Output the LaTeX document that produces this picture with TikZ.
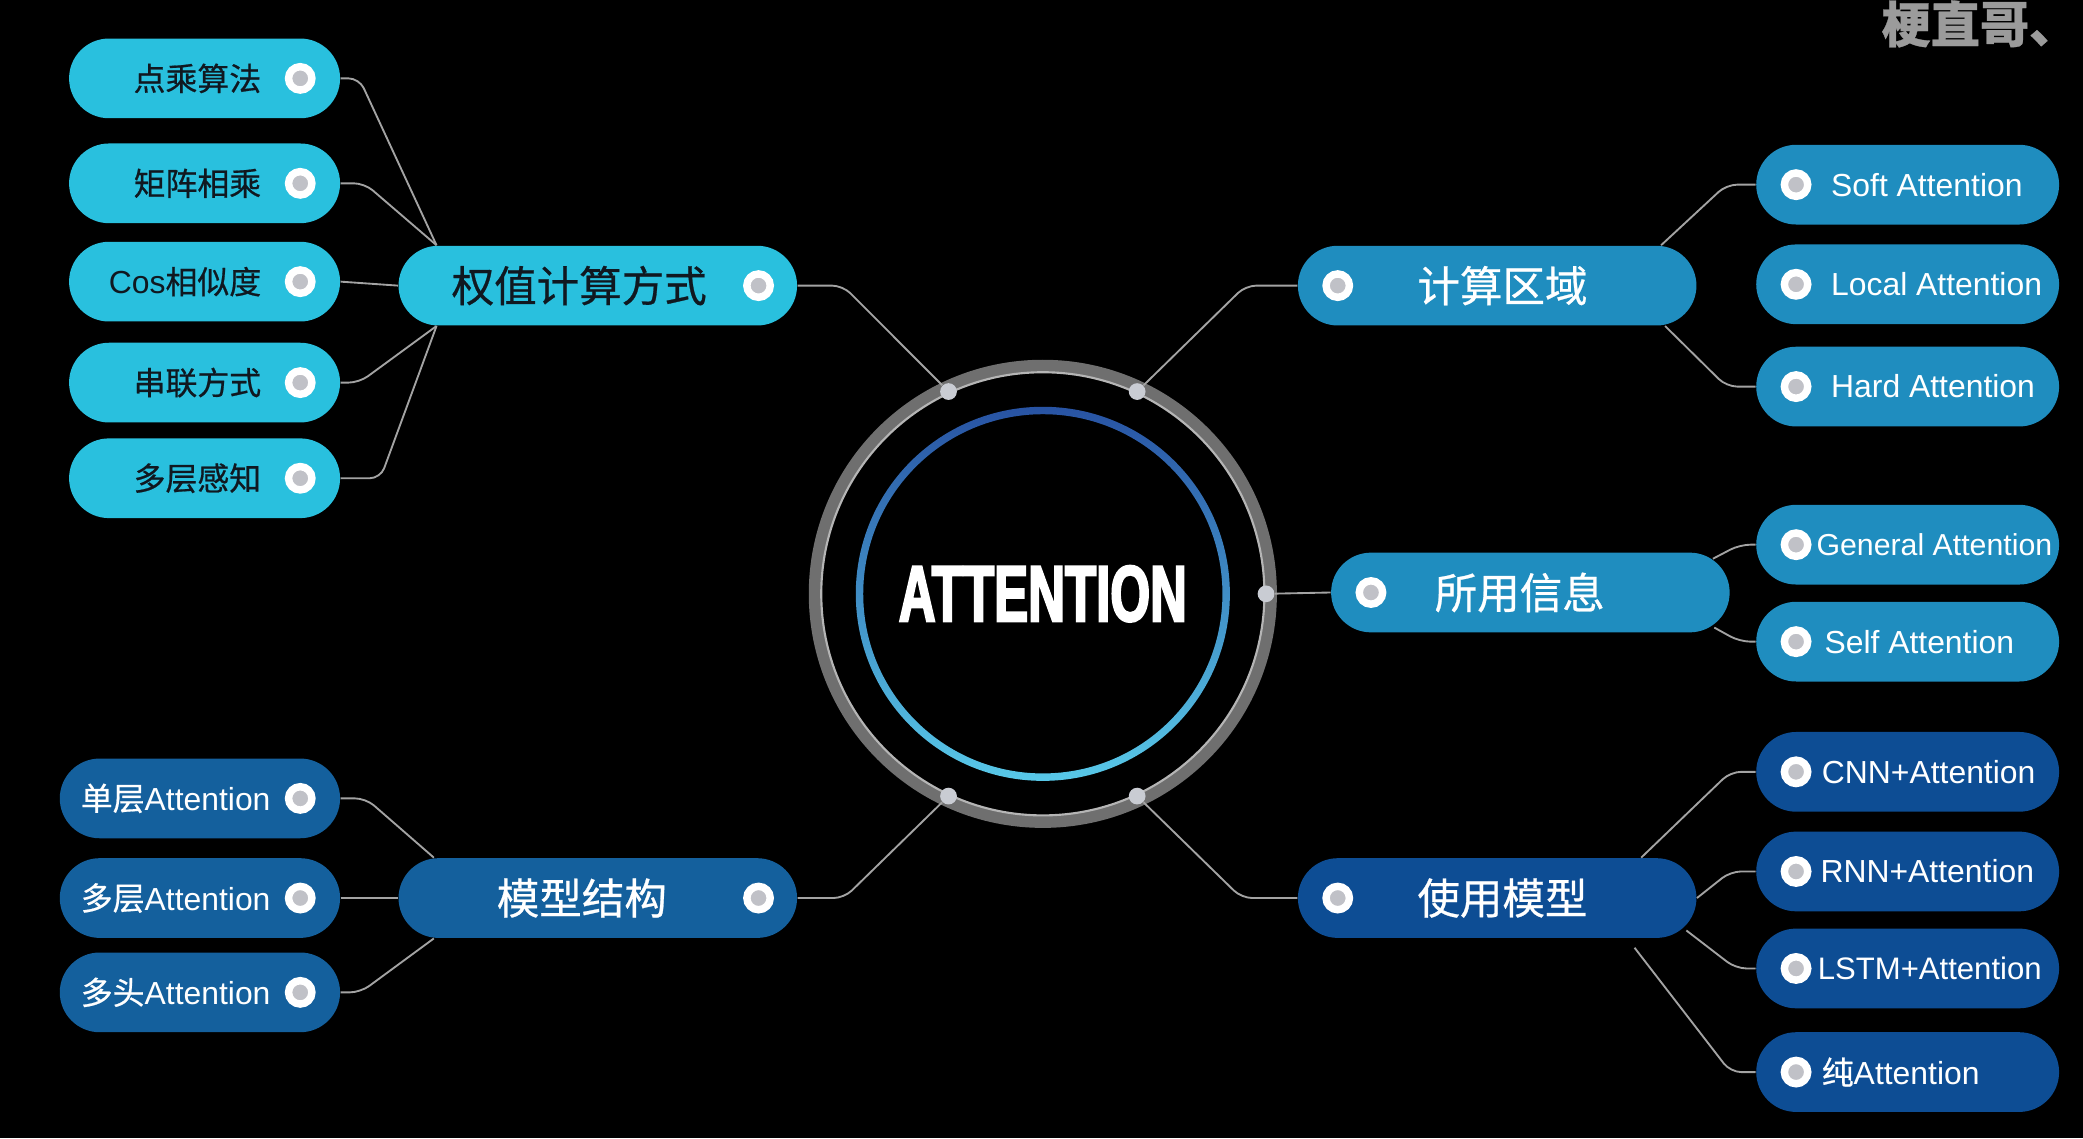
\documentclass[tikz,border=0pt]{standalone}
\usepackage{fontspec}
\setmainfont{Liberation Sans}
\newfontfamily\cjk[FakeBold=0.6]{Noto Sans CJK SC}
\newfontfamily\titlefont[FakeStretch=0.64, FakeBold=2.5]{Liberation Sans}
\usetikzlibrary{calc}
\definecolor{bgblack}{HTML}{000000}
\definecolor{wcyan}{HTML}{29C0DE}
\definecolor{darktext}{HTML}{101820}
\definecolor{areablue}{HTML}{1F8DBF}
\definecolor{structblue}{HTML}{14609D}
\definecolor{useblue}{HTML}{0D4D94}
\definecolor{dotgray}{HTML}{C0C1C7}
\definecolor{linkgray}{HTML}{A3A3A3}
\definecolor{ringgray}{HTML}{6F6F6F}
\definecolor{ringlight}{HTML}{B5B5B5}
\definecolor{ringtop}{HTML}{2853A3}
\definecolor{ringbot}{HTML}{58C8E8}
\definecolor{ringdotgray}{HTML}{C9CCD3}
\definecolor{markgray}{HTML}{9B9B9B}
\newcommand\zh[1]{{\cjk #1}}

\begin{document}
\begin{tikzpicture}[x=0.5pt, y=-0.5pt,
    pill/.style={rectangle, rounded corners=15pt, minimum height=30pt, inner sep=0pt},
    mainpill/.style={pill, minimum width=150pt},
    leftleaf/.style={pill, minimum width=102pt},
    lowleaf/.style={pill, minimum width=105.5pt},
    rightleaf/.style={pill, minimum width=114pt},
    dot/.style={circle, fill=dotgray, draw=white, line width=2.8pt, minimum size=8.8pt, inner sep=0pt},
    ringdot/.style={circle, fill=ringdotgray, minimum size=6.3pt, inner sep=0pt},
    link/.style={draw=linkgray, line width=0.7pt, rounded corners=4pt},
    maintext/.style={font=\cjk\fontsize{16}{18}\selectfont, text=white, inner sep=0pt},
    leaftext/.style={font=\fontsize{12}{14}\selectfont, text=white, inner sep=0pt},
    titletext/.style={font=\titlefont\bfseries\fontsize{30}{32}\selectfont, text=white, inner sep=0pt}
]
    % background
    \fill[bgblack] (0,0) rectangle (1568,857);

    % centre rings
    \coordinate (c) at (785,447);
    \draw[ringgray, line width=4.6pt] (c) circle[radius=85.8pt];
    \draw[ringlight, line width=0.8pt] (c) circle[radius=83.4pt];
    \shade[top color=ringtop, bottom color=ringbot, even odd rule]
        (c) circle[radius=70.4pt] (c) circle[radius=67.6pt];
    \node[titletext] (attn) at (c) {ATTENTION};
    \foreach \a [count=\i] in {115,65,0,245,295}
        \node[ringdot] (r\i) at ($(c)+(\a:84pt)$) {};

    % main branches
    \node[mainpill, fill=wcyan] (wcalc) at (450,215) {};
    \node[maintext, text=darktext] (wcalc-txt) at (436,215) {权值计算方式};
    \node[dot] (wcalc-dot) at (571,215) {};

    \node[mainpill, fill=areablue] (area) at (1127,215) {};
    \node[maintext] (area-txt) at (1131,215) {计算区域};
    \node[dot] (area-dot) at (1007,215) {};

    \node[mainpill, fill=areablue] (info) at (1152,446) {};
    \node[maintext] (info-txt) at (1144,446) {所用信息};
    \node[dot] (info-dot) at (1032,446) {};

    \node[mainpill, fill=structblue] (struct) at (450,676) {};
    \node[maintext] (struct-txt) at (438,676) {模型结构};
    \node[dot] (struct-dot) at (571,676) {};

    \node[mainpill, fill=useblue] (usem) at (1127,676) {};
    \node[maintext] (usem-txt) at (1131,676) {使用模型};
    \node[dot] (usem-dot) at (1007,676) {};

    % leaves
    \foreach \y/\t [count=\i] in {59/\zh{点乘算法}, 138/\zh{矩阵相乘}, 212/Cos\zh{相似度}, 288/\zh{串联方式}, 360/\zh{多层感知}} {
        \node[leftleaf, fill=wcyan] (w\i) at (154,\y) {};
        \node[leaftext, text=darktext, anchor=east] (w\i-txt) at (197,\y) {\t};
        \node[dot] (w\i-dot) at (226,\y) {};
    }
    \foreach \y/\t [count=\i] in {601/\zh{单层}Attention, 676/\zh{多层}Attention, 747/\zh{多头}Attention} {
        \node[lowleaf, fill=structblue] (s\i) at (150.5,\y) {};
        \node[leaftext, anchor=east] (s\i-txt) at (204,\y) {\t};
        \node[dot] (s\i-dot) at (226,\y) {};
    }
    \foreach \y/\t [count=\i] in {139/Soft Attention, 214/Local Attention, 291/Hard Attention} {
        \node[rightleaf, fill=areablue] (a\i) at (1436,\y) {};
        \node[leaftext, anchor=west] (a\i-txt) at (1378,\y) {\t};
        \node[dot] (a\i-dot) at (1352,\y) {};
    }
    \foreach \y/\x/\t [count=\i] in {410/1367/{\fontsize{11.4}{13}\selectfont General Attention}, 483/1373/Self Attention} {
        \node[rightleaf, fill=areablue] (i\i) at (1436,\y) {};
        \node[leaftext, anchor=west] (i\i-txt) at (\x,\y) {\t};
        \node[dot] (i\i-dot) at (1352,\y) {};
    }
    \foreach \y/\x/\t [count=\i] in {581/1371/CNN+Attention, 656/1370/RNN+Attention, 729/1368/{\fontsize{11.7}{13}\selectfont LSTM+Attention}, 807/1371/\zh{纯}Attention} {
        \node[rightleaf, fill=useblue] (u\i) at (1436,\y) {};
        \node[leaftext, anchor=west] (u\i-txt) at (\x,\y) {\t};
        \node[dot] (u\i-dot) at (1352,\y) {};
    }

    % links from the centre
    \draw[link] (r1) -- ($(wcalc.east)+(34,0)$) -- (wcalc.east);
    \draw[link] (r2) -- ($(area.west)+(-39,0)$) -- (area.west);
    \draw[link] (r3) -- (info.west);
    \draw[link] (r4) -- ($(struct.east)+(35,0)$) -- (struct.east);
    \draw[link] (r5) -- ($(usem.west)+(-42,0)$) -- (usem.west);

    % links to the leaves
    \draw[link] (w1.east) -- ++(14,0) -- ($(wcalc.north west)+(29,0)$);
    \draw[link] (w2.east) -- ++(18,0) -- ($(wcalc.north west)+(29,0)$);
    \draw[link] (w3.east) -- (wcalc.west);
    \draw[link] (w4.east) -- ++(14,0) -- ($(wcalc.south west)+(29,0)$);
    \draw[link] (w5.east) -- ++(30,0) -- ($(wcalc.south west)+(29,0)$);

    \draw[link] (s1.east) -- ++(19,0) -- ($(struct.north west)+(27,0)$);
    \draw[link] (s2.east) -- (struct.west);
    \draw[link] (s3.east) -- ++(15,0) -- ($(struct.south west)+(27,0)$);

    \draw[link] (a1.west) -- ++(-22,0) -- ($(area.north east)+(-27,0)$);
    \draw[link] (a3.west) -- ++(-22,0) -- ($(area.south east)+(-24,0)$);

    \draw[link] (i1.west) -- ++(-12,0) -- ($(info.north east)+(-13,5)$);
    \draw[link] (i2.west) -- ++(-12,0) -- ($(info.south east)+(-12,-4)$);

    \draw[link] (u1.west) -- ++(-19,0) -- ($(usem.north east)+(-42,0)$);
    \draw[link] (u2.west) -- ++(-19,0) -- (usem.east);
    \draw[link] (u3.west) -- ++(-15,0) -- ($(usem.south east)+(-8,-6)$);
    \draw[link] (u4.west) -- ++(-19,0) -- ($(usem.south east)+(-47,7)$);

    % watermark
    \node[font=\cjk\bfseries\fontsize{18.5}{20}\selectfont, text=markgray, anchor=west, inner sep=0pt] (mark) at (1416,18) {梗直哥、};
\end{tikzpicture}
\end{document}
